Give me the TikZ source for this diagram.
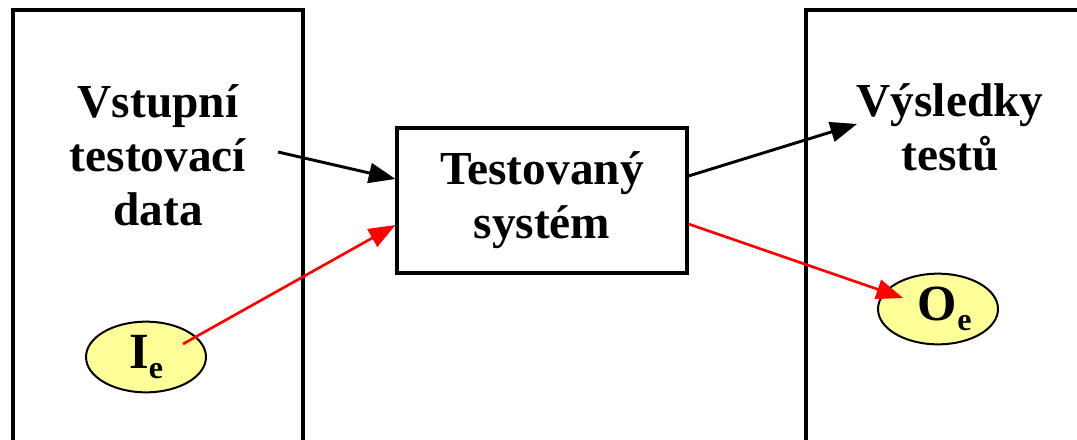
\documentclass[tikz,border=0pt]{standalone}
\usepackage{fontspec}
\setmainfont{Liberation Serif}
\usetikzlibrary{arrows.meta,shapes.geometric}
\definecolor{paleyellow}{HTML}{FFFF99}
\tikzset{
	title/.style={font=\bfseries\fontsize{35.5}{40.5}\selectfont, align=center},
	token/.style={ellipse, draw, line width=1.5pt, fill=paleyellow, inner sep=0pt,
		minimum width=90pt, minimum height=53pt, font=\bfseries\fontsize{38}{40}\selectfont},
	flow/.style={line width=2.2pt, -{Triangle[length=20pt,width=15pt]}},
}
\newcommand{\sub}[1]{\raisebox{-0.45ex}{\fontsize{24}{24}\selectfont #1}}
\begin{document}
\begin{tikzpicture}[x=0.75pt, y=-0.75pt]
			%%%%% START %%%%%
			\useasboundingbox (0,0) rectangle (1077,439);
			
			\draw[line width=2.3pt] (13,445) -- (13,10) -- (303,10) -- (303,445);
			\draw[line width=2.3pt] (806,445) -- (806,10) -- (1085,10);
			
			\node[title] (input) at (158,155) {Vstupní\\testovací\\data};
			\node[title] (output) at (950,127) {Výsledky\\testů};
			
			\node[draw, line width=2.3pt, minimum width=217.5pt, minimum height=108.75pt, inner sep=0pt] (sut) at (542,200.5) {};
			\node[title] at (sut.center) {Testovaný\\systém};
			
			\node[token] (ie) at (146,357) {I\sub{e}};
			\node[token] (oe) at (938,309) {\hspace*{10pt}O\sub{e}};
			
			\coordinate (infrom) at (278,152);
			\coordinate (outto) at (857,124);
			\coordinate (iefrom) at (183,344);
			
			\draw[flow] (infrom) -- (sut.west |- 0,179);
			\draw[flow] (sut.east |- 0,176) -- (outto);
			\draw[flow, red, line width=2pt] (iefrom) -- (sut.west |- 0,225);
			\draw[flow, red, line width=2pt] (sut.east |- 0,224) -- (903,298) coordinate (oetip);
			
			%%%%% END %%%%%
\end{tikzpicture}
\end{document}
